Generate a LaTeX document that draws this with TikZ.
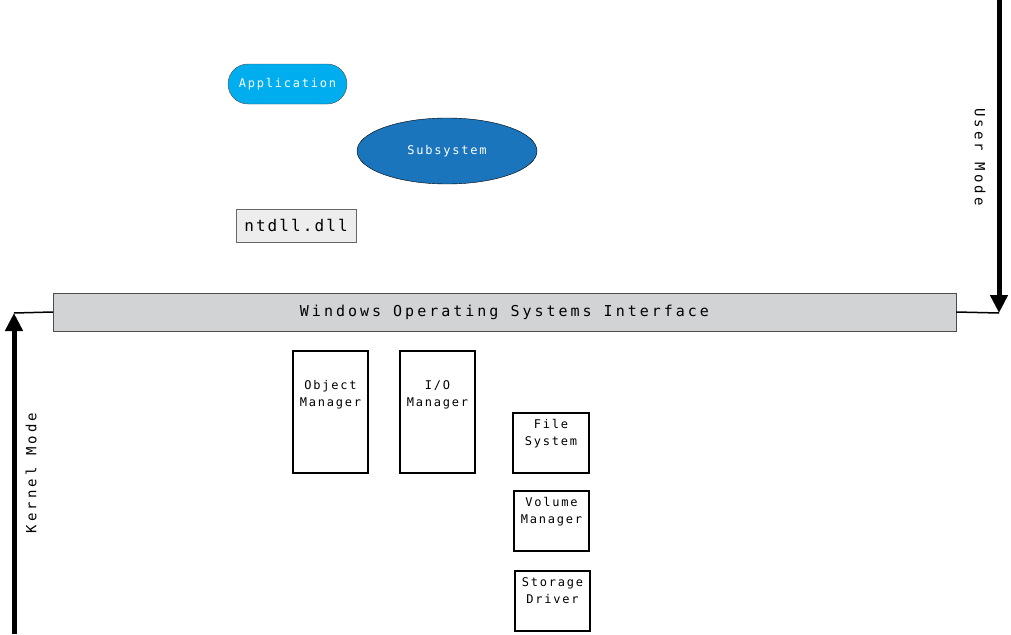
\documentclass[tikz,border=0pt]{standalone}
\usepackage{fontspec}
\setmainfont{DejaVu Sans Mono}[LetterSpace=15]
\usetikzlibrary{shapes.geometric,arrows.meta}
\definecolor{appc}{HTML}{00AEEF}
\definecolor{subc}{HTML}{1B75BC}
\definecolor{barc}{HTML}{D1D3D4}
\begin{document}
\begin{tikzpicture}[x=1pt,y=-1pt,
  comp/.style={draw=black,line width=1.1pt,fill=white,align=center,font=\fontsize{12}{17}\selectfont,inner sep=0},
  modearrow/.style={line width=5pt,-{Triangle[length=18pt,width=17pt]}}]
\useasboundingbox (0,0) rectangle (1011,634);
\node[draw=black!70,fill=appc,text=white,rounded corners=20pt,minimum width=119pt,minimum height=40pt,font=\fontsize{12}{14}\selectfont] (app) at (287.5,84) {Application};
\node[ellipse,draw=black,fill=subc,text=white,minimum width=180pt,minimum height=66pt,font=\fontsize{12}{14}\selectfont] (sub) at (447,151) {Subsystem};
\node[draw=black!60,fill=black!7,minimum width=120pt,minimum height=33pt,font=\fontsize{16}{18}\selectfont\addfontfeature{LetterSpace=13}] (nt) at (296,225.5) {ntdll.dll};
\node[draw=black!70,fill=barc,minimum width=903pt,minimum height=38pt,font=\fontsize{15}{17}\selectfont\addfontfeature{LetterSpace=20}] (bar) at (504.5,312) {Windows Operating Systems Interface};
\node[comp,minimum width=75pt,minimum height=122pt] (om) at (330.5,412) {Object\\Manager\\[20pt]};
\node[comp,minimum width=75pt,minimum height=122pt] (io) at (437.5,412) {I/O\\Manager\\[20pt]};
\node[comp,minimum width=76pt,minimum height=60pt] (fs) at (551,443) {File\\System\\[4pt]};
\node[comp,minimum width=75pt,minimum height=60pt] (vm) at (551.5,521) {Volume\\Manager\\[4pt]};
\node[comp,minimum width=75pt,minimum height=60pt] (sd) at (552.5,601) {Storage\\Driver\\[4pt]};
\coordinate (utop) at (999,0);
\coordinate (ubot) at (999,313);
\coordinate (kbot) at (14,634);
\coordinate (ktop) at (14,313);
\draw[modearrow] (utop) -- (ubot);
\draw[line width=1.5pt] (bar.east) -- (ubot);
\draw[modearrow] (kbot) -- (ktop);
\draw[line width=1.5pt] (ktop) -- (bar.west);
\node[rotate=-90,font=\fontsize{14}{16}\selectfont\addfontfeature{LetterSpace=22}] (um) at (980,157) {User Mode};
\node[rotate=90,font=\fontsize{14}{16}\selectfont\addfontfeature{LetterSpace=22}] (km) at (31,473) {Kernel Mode};
\end{tikzpicture}
\end{document}
